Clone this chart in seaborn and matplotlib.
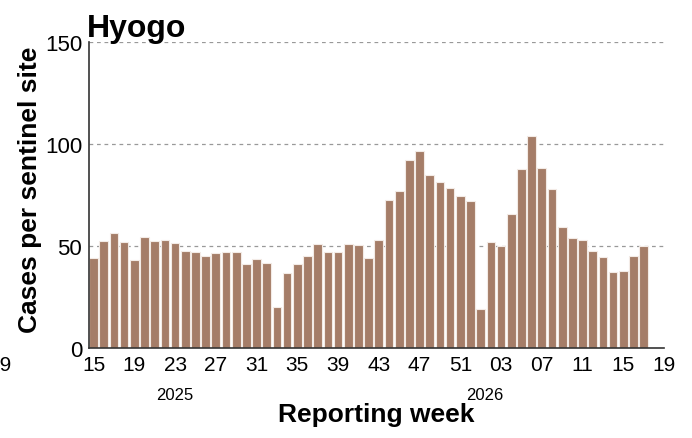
import numpy as np
import pandas as pd
import seaborn as sns
import matplotlib.pyplot as plt

# weekly cases per sentinel site, 2025 W15 - 2026 W17
weeks = [f"2025-W{w:02d}" for w in range(15, 53)] + [f"2026-W{w:02d}" for w in range(1, 18)]
cases = [44, 52.5, 56.5, 52, 43, 54.3, 52.3, 52.8, 51.5, 47.4,
         47, 45.3, 46.6, 47, 46.9, 41, 43.5, 41.7, 20.1, 36.9,
         41.2, 45.1, 51, 46.9, 46.9, 50.8, 50.3, 44.1, 53.1, 72.5,
         77.1, 92.2, 96.6, 84.6, 81.2, 78.3, 74.7, 72.1,
         19.1, 51.8, 50, 65.5, 87.6, 103.8, 88.4, 77.8, 59.2, 53.9,
         53.1, 47.5, 44.8, 37.1, 37.6, 45.1, 50.2]
tick_labels = ["15", "19", "23", "27", "31", "35", "39", "43", "47", "51",
               "03", "07", "11", "15", "19"]
years = ["2025", "2026"]
year_pos = [8, 38.4]

df = pd.DataFrame({"week": weeks, "cases": cases})

sns.set_style("white")
plt.rcParams['font.family'] = ['Liberation Sans', 'DejaVu Sans']
plt.rcParams['text.color'] = 'black'
plt.rcParams['axes.labelcolor'] = 'black'
plt.rcParams['xtick.color'] = 'black'
plt.rcParams['ytick.color'] = 'black'

fig = plt.figure(figsize=(6.92, 4.39), dpi=100)
ax = fig.add_axes([0.1286, 0.205, 0.831, 0.697])

sns.barplot(data=df, x="week", y="cases", color="#a57d68", saturation=1,
            width=0.85, edgecolor="#f3ebe6", linewidth=0.8, ax=ax)

ax.set_xlim(-0.45, 56)
ax.set_ylim(0, 150)
ax.set_yticks([0, 50, 100, 150])
ax.set_xticks(np.arange(0, 57, 4))
ax.set_xticklabels(tick_labels)
ax.tick_params(axis="x", labelsize=15, length=4, width=1, pad=1)
ax.tick_params(axis="y", labelsize=16, length=4, width=1, pad=1)

for y in [50, 100, 150]:
    ax.axhline(y, color="#999999", linestyle=(0, (3, 3)), linewidth=0.9, zorder=0)

for s in ["top", "right"]:
    ax.spines[s].set_visible(False)
for s in ["left", "bottom"]:
    ax.spines[s].set_color("#333333")
    ax.spines[s].set_linewidth(1.2)

ax.set_xlabel("Reporting week", fontsize=19, fontweight="bold", labelpad=20)
ax.set_ylabel("Cases per sentinel site", fontsize=19, fontweight="bold")
ax.yaxis.set_label_coords(-0.082, 0.52)
ax.set_title("Hyogo", fontsize=23, fontweight="bold", loc="left", x=-0.003, pad=4)

# year labels under the week ticks
for yr, xp in zip(years, year_pos):
    ax.text(xp, -19, yr, fontsize=12, ha="center", va="top")

# clipped leftover tick label at the left edge
fig.text(12 / 692, 1 - 356 / 439, "19", fontsize=15, ha="right", va="top")

fig.savefig("out.png", dpi=100)
